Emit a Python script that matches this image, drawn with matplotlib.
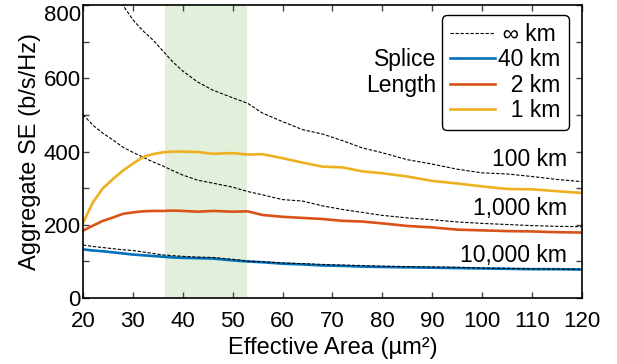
import numpy as np
import matplotlib
matplotlib.use('Agg')
import matplotlib.pyplot as plt
from matplotlib.ticker import MultipleLocator

plt.rcParams['font.family'] = ['Liberation Sans', 'DejaVu Sans']
plt.rcParams['font.size'] = 16.5

# effective area grid (um^2)
area = [20, 22, 24, 26, 28, 30, 32, 34, 36, 38, 40, 43, 46, 50, 53, 56,
        60, 64, 68, 72, 76, 80, 85, 90, 95, 100, 105, 110, 115, 120]

# ideal (infinite splice length) curves for three distances
inf_100 = [960, 920, 880, 840, 800, 760, 730, 705, 675, 645, 620, 590, 568, 547, 532, 505,
           482, 460, 448, 430, 410, 397, 378, 366, 352, 342, 339, 332, 324, 318]
inf_1000 = [501, 472, 450, 432, 412, 398, 385, 372, 361, 348, 336, 322, 314, 303, 291, 282,
            269, 265, 252, 242, 234, 226, 219, 214, 208, 204, 201, 198, 196, 195]
inf_10000 = [145, 141, 138, 135, 132, 130, 126, 122, 118, 116, 114, 112, 111, 106, 101, 99,
             96, 94, 92, 90, 89, 87, 86, 85, 84, 82, 81, 80, 79, 79]

# finite splice lengths
km40 = [133, 130, 128, 125, 122, 119, 117, 115, 113, 111, 110, 109, 108, 103, 100, 98,
        94, 92, 89, 88, 86, 85, 84, 83, 82, 81, 80, 79, 79, 78]
km2 = [184, 198, 211, 220, 230, 234, 237, 238, 238, 239, 238, 236, 238, 236, 237, 227,
       222, 219, 216, 211, 209, 204, 197, 193, 187, 185, 183, 182, 180, 179]
km1 = [205, 262, 300, 325, 348, 367, 385, 393, 398, 400, 400, 399, 394, 396, 392, 393,
       382, 370, 359, 357, 346, 341, 332, 320, 313, 305, 298, 297, 292, 287]

span = (36.4, 52.9)
yticks = [0, 200, 400, 600, 800]

fig = plt.figure(figsize=(6.17, 3.64), dpi=100)
ax = fig.add_axes([0.1345, 0.181, 0.8085, 0.805])

ax.axvspan(span[0], span[1], color='#e2efda', lw=0, zorder=0)

dash = dict(color='black', lw=0.8, ls=(0, (3, 1.5)))
h_inf, = ax.plot(area, inf_100, **dash)
ax.plot(area, inf_1000, **dash)
ax.plot(area, inf_10000, **dash, zorder=3)
h40, = ax.plot(area, km40, color='#0072bd', lw=1.9, zorder=2)
h2, = ax.plot(area, km2, color='#d95319', lw=1.9)
h1, = ax.plot(area, km1, color='#edb120', lw=1.9)

ax.text(117, 379, '100 km', ha='right', va='center')
ax.text(117, 244, '1,000 km', ha='right', va='center')
ax.text(117, 117, '10,000 km', ha='right', va='center')

ax.set_xlim(20, 120)
ax.set_ylim(0, 800)
ax.xaxis.set_major_locator(MultipleLocator(10))
ax.set_yticks(yticks)
ax.set_yticklabels([str(v) for v in yticks])
ax.yaxis.set_minor_locator(MultipleLocator(100))
ax.tick_params(which='both', direction='in', top=True, right=True, color='#444444',
               length=4.5, width=1, labelsize=16)
ax.tick_params(axis='x', pad=9)
ax.tick_params(axis='y', pad=1.5)
ax.get_yticklabels()[-1].set_va('top')
for s in ax.spines.values():
    s.set_linewidth(1.2)

ax.set_xlabel('Effective Area (µm²)', fontsize=17, labelpad=4)
ax.set_ylabel('Aggregate SE (b/s/Hz)', fontsize=17, labelpad=2)

leg = ax.legend([h_inf, h40, h2, h1],
                ['\u2009∞ km', '40 km', '\u20072 km', '\u20071 km'],
                loc='upper right', bbox_to_anchor=(0.974, 0.966),
                handlelength=1.95, handletextpad=0.15, labelspacing=0.1,
                borderpad=0.35, borderaxespad=0, fancybox=True, framealpha=1,
                edgecolor='black', fontsize=16.5)
leg.get_frame().set_linewidth(1.0)

ax.text(0.709, 0.77, 'Splice\nLength', transform=ax.transAxes, ha='right', va='center',
        linespacing=1.2)

plt.savefig('out.png', dpi=100)
